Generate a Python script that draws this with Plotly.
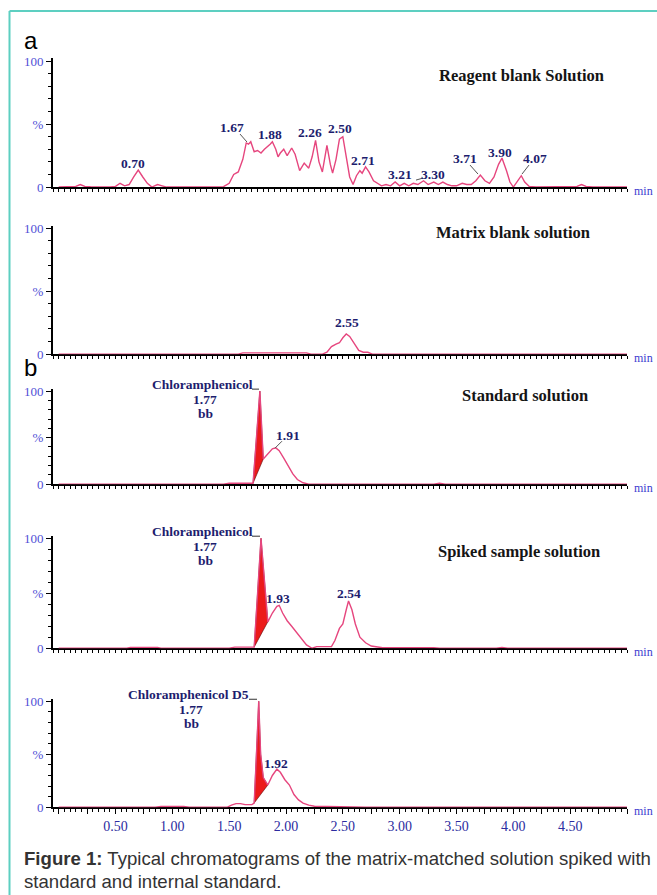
import plotly.graph_objects as go

W, H = 657, 895

# ---------------- data ----------------
REAGENT_TIME = [0.00, 0.10, 0.15, 0.19, 0.23, 0.28, 0.35, 0.45, 0.50, 0.54, 0.58, 0.62, 0.66, 0.70, 0.74, 0.78,
                0.82, 0.87, 0.91, 0.95, 1.05, 1.20, 1.35, 1.45, 1.50, 1.54, 1.58, 1.62, 1.65, 1.67, 1.69, 1.72,
                1.75, 1.78, 1.81, 1.84, 1.86, 1.88, 1.91, 1.93, 1.95, 1.98, 2.01, 2.05, 2.08, 2.12, 2.16, 2.20,
                2.23, 2.26, 2.29, 2.32, 2.36, 2.39, 2.41, 2.44, 2.47, 2.50, 2.53, 2.56, 2.59, 2.62, 2.65, 2.67,
                2.70, 2.73, 2.77, 2.80, 2.84, 2.88, 2.92, 2.96, 3.00, 3.04, 3.08, 3.12, 3.16, 3.21, 3.25, 3.30,
                3.34, 3.38, 3.42, 3.46, 3.50, 3.55, 3.59, 3.63, 3.67, 3.71, 3.75, 3.79, 3.83, 3.87, 3.90, 3.94,
                3.97, 4.00, 4.04, 4.07, 4.10, 4.14, 4.20, 4.50, 4.56, 4.60, 4.64, 4.70, 5.00]
REAGENT_PCT = [0, 0, 0.5, 2, 0.5, 0.3, 0, 0, 0.5, 3, 1, 2, 8, 13.5, 8, 3,
               0, 2, 1, 0, 0, 0, 0, 0.3, 3, 10, 12, 22, 35, 34, 36, 28,
               29, 27, 30, 32, 34, 36, 30, 24, 27, 30, 25, 31, 26, 13, 19, 15,
               24, 37, 20, 12, 33, 18, 11, 22, 38, 40, 25, 8, 2, 9, 13, 11,
               16, 12, 5, 3, 1, 2, 1, 4, 1, 3, 1, 3, 2, 5, 2, 4,
               2, 4, 2, 1, 1, 3, 2, 2, 5, 9.5, 5, 3, 8, 18, 23, 13,
               4, 0, 5, 9, 4, 0.5, 0, 0, 0.5, 2, 0.5, 0, 0]

MATRIX_TIME = [0, 1.58, 1.62, 2.18, 2.22, 2.32, 2.36, 2.40, 2.44, 2.47, 2.50, 2.53, 2.56, 2.60, 2.64, 2.68, 2.72,
               2.76, 5.0]
MATRIX_PCT = [0, 0, 1, 1, 0, 0, 1.5, 6, 8, 9, 13, 16, 14, 8, 3, 1.5, 1.5, 0, 0]

STANDARD_TIME = [0, 1.45, 1.50, 1.58, 1.62, 1.68, 1.71, 1.74, 1.77, 1.80, 1.84, 1.88, 1.91, 1.94, 1.98, 2.02,
                 2.06, 2.10, 2.15, 2.20, 3.30, 3.35, 3.40, 5.0]
STANDARD_PCT = [0, 0, 1, 1, 0.5, 0.5, 1, 50, 100, 27, 33, 38, 39, 36, 28, 19, 11, 5, 1.5, 0, 0, 1, 0, 0]

SPIKED_TIME = [0, 0.60, 0.63, 0.87, 0.90, 1.50, 1.55, 1.72, 1.75, 1.78, 1.84, 1.88, 1.92, 1.94, 1.97, 2.01,
               2.05, 2.09, 2.13, 2.18, 2.23, 2.27, 2.40, 2.43, 2.47, 2.50, 2.53, 2.55, 2.58, 2.61, 2.65, 2.70,
               2.75, 2.85, 3.30, 3.35, 3.85, 3.90, 3.95, 5.0]
SPIKED_PCT = [0, 0, 0.8, 0.8, 0, 0, 1, 1, 50, 100, 24, 32, 38, 39, 32, 25,
              20, 15, 9, 3, 0, 1.5, 1.5, 7, 18, 22, 35, 43, 35, 22, 10, 5,
              2, 0.5, 0.5, 0, 0, 0.8, 0, 0]

D5_TIME = [0, 0.85, 0.90, 1.10, 1.15, 1.48, 1.52, 1.56, 1.60, 1.64, 1.70, 1.72, 1.74, 1.76, 1.777, 1.80,
           1.84, 1.88, 1.92, 1.95, 1.99, 2.03, 2.07, 2.11, 2.15, 2.20, 2.25, 2.35, 2.50, 2.60, 2.70, 5.0]
D5_PCT = [0, 0, 0.8, 0.8, 0, 0, 2, 3.5, 3.5, 2.5, 2.5, 4, 50, 100, 50, 28,
          21, 30, 36, 33, 26, 21, 12, 7, 4, 2, 1, 0.8, 0.5, 0.3, 0, 0]

PANEL_TITLES = ["Reagent blank Solution", "Matrix blank solution", "Standard solution",
                "Spiked sample solution", ""]
REAGENT_PEAK_LABELS = ["0.70", "1.67", "1.88", "2.26", "2.50", "2.71", "3.21", "3.30", "3.71", "3.90", "4.07"]
MATRIX_PEAK_LABELS = ["2.55"]
STANDARD_PEAK_LABELS = ["1.91"]
SPIKED_PEAK_LABELS = ["1.93", "2.54"]
D5_PEAK_LABELS = ["1.92"]
COMPOUNDS = ["Chloramphenicol", "Chloramphenicol", "Chloramphenicol D5"]
COMPOUND_RT = "1.77"
COMPOUND_CODE = "bb"
INTEGRATION_WINDOWS = [(1.71, 1.80), (1.72, 1.84), (1.72, 1.84)]
X_TICK_LABELS = ["0.50", "1.00", "1.50", "2.00", "2.50", "3.00", "3.50", "4.00", "4.50"]
Y_TICK_VALUES = [0, 50, 100]
Y_TICK_LABELS = ["0", "%", "100"]
X_UNIT = "min"
PANEL_LETTERS = ["a", "b"]
CAPTION_BOLD = "Figure 1:"
CAPTION_LINE1 = " Typical chromatograms of the matrix-matched solution spiked with"
CAPTION_LINE2 = "standard and internal standard."

SERIES = [(REAGENT_TIME, REAGENT_PCT), (MATRIX_TIME, MATRIX_PCT), (STANDARD_TIME, STANDARD_PCT),
          (SPIKED_TIME, SPIKED_PCT), (D5_TIME, D5_PCT)]

# ---------------- styling / geometry ----------------
SERIF = "Liberation Serif"
SANS = "Liberation Sans"
PINK = "#e6467e"
NAVY = "#1d1d6e"
TICKBLUE = "#5050d6"
XLABBLUE = "#2c2ca0"
TEAL = "#5dcfc1"

PLOT_LEFT, PLOT_RIGHT = 53, 627
XMIN, XMAX = -0.05, 5.0
YMAX = 102
# (pixel of 100 %, pixel of 0 %) in reference-picture pixels
PANEL_PIX = [(61, 187), (228, 354), (391, 484), (538, 648), (701, 807)]

# vertical calibration of the photographed page
V_SCALE, V_OFF = 0.984, 6.0


def px(x):
    return x / W


def py(y):
    yy = (y - V_OFF) / V_SCALE
    return 1 - yy / H


fig = go.Figure()
layout = dict(width=W, height=H, margin=dict(l=0, r=0, t=0, b=0, pad=0), autosize=False,
              paper_bgcolor="white", plot_bgcolor="white", showlegend=False)

major_x = [k * 0.25 for k in range(21)]
major_x_text = []
for v in major_x:
    lab = "%.2f" % v
    major_x_text.append(lab if lab in X_TICK_LABELS else "")

for i, (p100, p0) in enumerate(PANEL_PIX):
    n = i + 1
    top_px = p100 - (YMAX - 100) / 100 * (p0 - p100)
    xa = dict(domain=[px(PLOT_LEFT), px(PLOT_RIGHT)], range=[XMIN, XMAX], anchor="y%d" % n,
              showline=True, linecolor="black", linewidth=2, layer="below traces",
              showgrid=False, zeroline=False, ticks="outside", ticklen=5, tickwidth=1, tickcolor="black",
              tickmode="array", tickvals=major_x,
              ticktext=major_x_text if n == 5 else [""] * len(major_x),
              showticklabels=(n == 5),
              tickfont=dict(family=SERIF, size=14, color=XLABBLUE),
              minor=dict(dtick=0.05, tick0=0, ticks="outside", ticklen=3, tickwidth=1, tickcolor="black"),
              fixedrange=True)
    ya = dict(domain=[py(p0), py(top_px)], range=[0, YMAX], anchor="x%d" % n,
              showline=True, linecolor="black", linewidth=2, layer="below traces",
              showgrid=False, zeroline=False, ticks="outside", ticklen=5, tickwidth=1, tickcolor="black",
              tickmode="array", tickvals=Y_TICK_VALUES, ticktext=Y_TICK_LABELS,
              tickfont=dict(family=SERIF, size=13, color=TICKBLUE),
              minor=dict(dtick=10, tick0=0, ticks="outside", ticklen=3, tickwidth=1, tickcolor="black"),
              fixedrange=True)
    layout["xaxis" if n == 1 else "xaxis%d" % n] = xa
    layout["yaxis" if n == 1 else "yaxis%d" % n] = ya

# red integrated areas (from the series inside the integration window)
for k, (t0, t1) in enumerate(INTEGRATION_WINDOWS):
    idx = k + 2
    ts, vs = SERIES[idx]
    fx = [t for t in ts if t0 <= t <= t1]
    fy = [v for t, v in zip(ts, vs) if t0 <= t <= t1]
    fx = fx + [fx[0]]
    fy = fy + [fy[0]]
    fig.add_trace(go.Scatter(x=fx, y=fy, mode="lines", fill="toself", fillcolor="#ec1a1a",
                             line=dict(color="#5a0a0a", width=0.6),
                             xaxis="x%d" % (idx + 1), yaxis="y%d" % (idx + 1), hoverinfo="skip"))

for i, (ts, vs) in enumerate(SERIES):
    n = i + 1
    fig.add_trace(go.Scatter(x=ts, y=vs, mode="lines", line=dict(color=PINK, width=1.4),
                             xaxis="x%d" % n, yaxis="y%d" % n))

annotations = []
shapes = []


def text(t, x, y, size=13.5, color=NAVY, family=SERIF, bold=True, xanchor="center"):
    annotations.append(dict(text=("<b>%s</b>" % t) if bold else t, x=px(x), y=py(y), xref="paper",
                            yref="paper", showarrow=False, xanchor=xanchor, yanchor="middle",
                            font=dict(family=family, size=size, color=color)))


def line(x0, y0, x1, y1, color="#555555", width=1):
    shapes.append(dict(type="line", x0=px(x0), y0=py(y0), x1=px(x1), y1=py(y1), xref="paper",
                       yref="paper", line=dict(color=color, width=width)))


# panel titles
TITLE_POS = [(521, 75), (513, 232), (525, 395), (519, 551)]
for t, (x, y) in zip(PANEL_TITLES, TITLE_POS):
    text(t, x, y, size=16.5, color="#151515")

# reagent peak labels
REAGENT_LABEL_POS = [(133, 163), (232, 127), (270, 134), (310, 132), (340, 128), (363, 160), (400, 174),
                     (433, 174), (465, 158), (500, 152), (535, 158)]
for t, (x, y) in zip(REAGENT_PEAK_LABELS, REAGENT_LABEL_POS):
    text(t, x, y)
line(240, 134, 247, 142)
line(416, 180, 423, 178)
line(470, 165, 478, 174)
line(529, 165, 522, 174)

text(MATRIX_PEAK_LABELS[0], 347, 322)

# compound labels
COMP_POS = [(202, 384), (202, 531), (188, 694)]
for c, (x, y) in zip(COMPOUNDS, COMP_POS):
    text(c, x, y)
    text(COMPOUND_RT, x + 3, y + 15)
    text(COMPOUND_CODE, x + 3, y + 29)
line(252, 389, 259, 389, "#333333")
line(252, 536, 260, 536, "#333333")
line(249, 699, 257, 699, "#333333")

text(STANDARD_PEAK_LABELS[0], 288, 435)
line(282, 441, 275, 448)
text(SPIKED_PEAK_LABELS[0], 278, 598)
text(SPIKED_PEAK_LABELS[1], 349, 593)
text(D5_PEAK_LABELS[0], 276, 763)

# unit labels
for (p100, p0) in PANEL_PIX:
    text(X_UNIT, 643, p0 + 4, size=12, color="#3c3cd0", bold=False)

# panel letters
text(PANEL_LETTERS[0], 22, 40, size=24, color="black", family=SANS, bold=False, xanchor="left")
text(PANEL_LETTERS[1], 22, 367, size=24, color="black", family=SANS, bold=False, xanchor="left")

# caption
annotations.append(dict(text="<b>%s</b>%s" % (CAPTION_BOLD, CAPTION_LINE1), x=px(22), y=py(858),
                        xref="paper", yref="paper", showarrow=False, xanchor="left", yanchor="middle",
                        font=dict(family=SANS, size=18.6, color="#333333")))
annotations.append(dict(text=CAPTION_LINE2, x=px(22), y=py(881), xref="paper", yref="paper",
                        showarrow=False, xanchor="left", yanchor="middle",
                        font=dict(family=SANS, size=18.6, color="#333333")))

# teal frame
line(9.5, 11, 9.5, 900, TEAL, 2)
line(9.5, 11, W, 11, TEAL, 2)

layout["annotations"] = annotations
layout["shapes"] = shapes
fig.update_layout(**layout)

fig.write_html(
    "out.html",
    config={"displayModeBar": False},
    post_script=("document.documentElement.style.margin='0';document.body.style.margin='0';"
                 "document.body.style.padding='0';document.documentElement.style.overflow='hidden';"
                 "document.body.style.overflow='hidden';"),
)
